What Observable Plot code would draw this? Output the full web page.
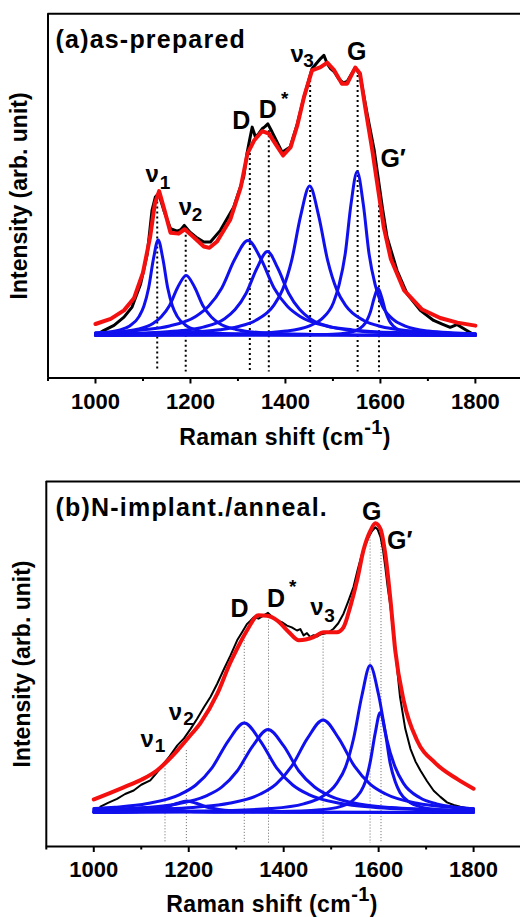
<!DOCTYPE html>
<html><head><meta charset="utf-8">
<script src="https://cdn.jsdelivr.net/npm/d3@7"></script>
<script src="https://cdn.jsdelivr.net/npm/@observablehq/plot@0.6"></script>
<style>
html,body{margin:0;padding:0;background:#fff;width:520px;overflow:hidden}
.panel{position:relative;width:520px}
svg{display:block}
</style></head><body>
<div id="pa" class="panel"></div>
<div id="pb" class="panel"></div>
<script>
// ---------- shared tick values ----------
const majorTicks = [1000, 1200, 1400, 1600, 1800];
const minorTicks = [900, 1100, 1300, 1500, 1700];

// ---------- panel (a): as-prepared ----------
const aExpX = [1000,1017,1039,1060,1077,1095,1109,1119,1126,1133,1144,1158,1172,1180,1187,1199,1212,1228,1242,1263,1291,1312,1319,1325,1330,1337,1344,1351,1357,1363,1372,1393,1410,1425,1439,1456,1466,1474,1481,1488,1495,1503,1512,1522,1530,1540,1547,1557,1572,1587,1594,1604,1614,1635,1656,1684,1712,1730,1747,1761,1782,1800];
const aExpY = [0,1.8,3.7,6.7,10.4,18.9,29.9,45.8,50.7,52,45.8,39.1,38.2,38.8,40.3,37.8,36,34.2,34.2,38.5,47,58,66.6,72,76.3,72.6,74,75.7,76.5,77.5,74.5,67.1,69,77.5,87.3,97.7,99.8,101.4,102.6,99.5,97.7,96.5,94,92.5,93,96,98,95.5,81.2,67.8,59.2,47,36,23.8,15.3,9.2,5.5,4.2,3,4,1.8,0];
const aFitX = [1000,1032,1060,1081,1100,1115,1125,1134,1147,1158,1175,1188,1207,1228,1240,1256,1284,1306,1320,1334,1351,1365,1379,1395,1411,1425,1439,1456,1474,1488,1502,1519,1530,1547,1557,1568,1583,1593,1607,1622,1650,1688,1726,1762,1800];
const aFitY = [4.2,6.1,9.2,13.6,23,36,48.2,52.9,44.8,37.6,37.3,38.9,36,32.6,32.1,34.4,42.5,54.3,66.6,71.4,74.8,73.9,70.2,65.9,69,76.9,87.3,97.1,98.3,99.9,97.3,92.2,92.2,98.1,95.9,83.6,67.8,56,39.7,28,16.5,9.5,6.4,4.7,3.6];
const aNu1X = [1000,1052,1072,1092,1102,1112,1122,1132,1142,1152,1162,1172,1192,1212,1252,1332,1500,1800];
const aNu1Y = [0.78,2.06,3.5,7,10.8,17.5,28,35,28,17.5,10.8,7,3.5,2.06,0.95,0.35,0.1,0.03];
const aNu2X = [1000,1051,1086,1121,1138,1156,1173,1191,1209,1226,1244,1261,1296,1331,1401,1541,1800];
const aNu2Y = [0.71,1.29,2.2,4.4,6.8,11,17.6,22,17.6,11,6.8,4.4,2.2,1.29,0.6,0.22,0.07];
const aDX = [1000,1101,1156,1211,1238,1266,1293,1321,1349,1376,1404,1431,1486,1541,1651,1800];
const aDY = [0.99,2.05,3.48,6.96,10.7,17.4,27.8,34.8,27.8,17.4,10.7,6.96,3.48,2.05,0.94,0.45];
const aDsX = [1000,1137,1182,1227,1272,1294,1317,1340,1362,1384,1407,1430,1452,1497,1542,1632,1800];
const aDsY = [0.47,1.18,1.81,3.08,6.16,9.48,15.4,24.6,30.8,24.6,15.4,9.48,6.16,3.08,1.81,0.83,0.32];
const aNu3X = [1000,1185,1261,1299,1337,1375,1394,1413,1432,1451,1470,1489,1508,1527,1565,1603,1641,1717,1800];
const aNu3Y = [0.38,1.09,2.1,3.22,5.47,10.9,16.8,27.4,43.8,54.7,43.8,27.4,16.8,10.9,5.47,3.22,2.1,1.09,0.64];
const aGX = [1000,1301,1401,1451,1476,1501,1513,1526,1538,1551,1564,1576,1589,1601,1626,1651,1701,1800];
const aGY = [0.12,0.59,1.62,3.53,6,12,18.5,30,48,60,48,30,18.5,12,6,3.53,1.62,0.6];
const aGpX = [1000,1400,1499,1531,1547,1563,1571,1579,1587,1595,1603,1611,1619,1627,1643,1659,1691,1800];
const aGpY = [0.01,0.11,0.47,1.02,1.73,3.46,5.32,8.65,13.8,17.3,13.8,8.65,5.32,3.46,1.73,1.02,0.47,0.1];
const aLineX = [1130,1190,1325,1365,1452,1552,1597];
const aLineTop = [50.7,38.5,66.6,75,95.2,97,53];
const aLineBottom = -13.4;
const aLabelText = ["ν","ν","D","D","ν","G","G′"];
const aLabelX = [1105.3,1175.4,1287.8,1343.8,1410.5,1529.9,1600];
const aLabelY = [56.2,44,75.7,79.7,100.1,101,61.6];
const aSubText = ["1","2","3","*"];
const aSubX = [1135.5,1202.5,1437.5,1390.5];
const aSubY = [53.5,42.1,98.3,84.5];

// ---------- panel (b): N-implant./anneal. ----------
const bExpX = [1014,1030,1049,1066,1084,1100,1119,1133,1147,1160,1176,1190,1204,1218,1232,1246,1260,1274,1288,1302,1313,1323,1330,1337,1347,1358,1367,1376,1386,1396,1407,1417,1428,1435,1442,1449,1456,1463,1470,1477,1484,1494,1505,1515,1526,1536,1547,1556,1565,1572,1579,1586,1593,1598,1604,1609,1614,1619,1625,1630,1635,1645,1656,1667,1678,1688,1702,1716,1730,1744,1758,1772,1786,1800];
const bExpY = [2.0,3.3,4.7,6.4,7.6,9.6,11.1,13.8,16.8,19.5,23.2,25.6,28.9,32.5,36.4,40.0,44.5,49.5,54.3,59.5,62.5,65.2,66.3,67.5,67.0,68.1,69.0,67.6,66.4,65.8,64.6,64.0,62.9,63.4,61.2,62.0,60.6,61.3,60.8,61.5,61.8,62.2,63.5,65.4,68.7,73.0,77.9,84.0,89.4,92.5,95.2,97.3,98.6,97.8,95.2,91.0,84.8,78.0,71.0,63.0,56.0,40.0,29.0,22.0,17.5,14.5,10.8,7.5,5.4,3.5,2.6,2.0,1.5,1.3];
const bFitX = [1000,1035,1063,1100,1133,1155,1176,1200,1225,1260,1288,1300,1323,1347,1365,1386,1410,1432,1463,1484,1512,1526,1540,1555,1568,1583,1593,1604,1614,1625,1635,1653,1681,1720,1765,1800];
const bFitY = [4.5,6.8,8.7,11.3,14.5,17.8,21.4,26,31,41,52,56,63,68.2,68,66.4,62.5,59.5,60.6,62.3,62.3,64,71,80.5,90.6,97.5,100,98,89.4,73.3,56,38.5,24.9,17,11.6,8.2];
const bNu1X = [1000,1090,1120,1150,1180,1210,1300,1800];
const bNu1Y = [0.06,0.3,0.75,1.5,0.75,0.3,0.06,0];
const bNu2X = [1000,1076,1116,1156,1176,1196,1216,1236,1276,1316,1436,1800];
const bNu2Y = [0.16,0.4,0.8,2,3.2,4,3.2,2,0.8,0.4,0.11,0.02];
const bDX = [1000,1045,1113,1181,1215,1249,1283,1317,1351,1385,1419,1453,1521,1589,1725,1800];
const bDY = [1.36,1.82,3.09,6.18,9.51,15.45,24.7,30.9,24.7,15.45,9.51,6.18,3.09,1.82,0.83,0.6];
const bDsX = [1000,1107,1172,1237,1270,1302,1335,1367,1400,1432,1465,1497,1562,1627,1757,1800];
const bDsY = [0.87,1.69,2.87,5.74,8.83,14.35,23,28.7,23,14.35,8.83,5.74,2.87,1.69,0.78,0.63];
const bNu3X = [1000,1087,1219,1285,1351,1384,1417,1450,1483,1516,1549,1582,1615,1681,1747,1800];
const bNu3Y = [0.59,0.86,1.88,3.2,6.4,9.85,16,25.6,32,25.6,16,9.85,6.4,3.2,1.88,1.33];
const bGX = [1000,1232,1372,1442,1477,1512,1530,1547,1565,1582,1600,1617,1635,1652,1687,1722,1800];
const bGY = [0.18,0.5,1.37,2.99,5.08,10.16,15.6,25.4,40.6,50.8,40.6,25.4,15.6,10.16,5.08,2.99,1.27];
const bGpX = [1000,1393,1477,1519,1540,1561,1572,1582,1593,1603,1614,1624,1635,1645,1666,1687,1729,1800];
const bGpY = [0.04,0.34,0.93,2.03,3.45,6.9,10.6,17.25,27.6,34.5,27.6,17.25,10.6,6.9,3.45,2.03,0.93,0.39];
const bLineX = [1150,1195,1317,1368,1483,1582,1605];
const bLineTop = [15.1,21.4,59.5,67.5,60.6,95.2,95];
const bLineBottom = -10.7;
const bLabelText = ["ν","ν","D","D","ν","G","G′"];
const bLabelX = [1098.3,1157.9,1287.8,1365,1456.2,1565,1617.7];
const bLabelY = [22.6,31.8,67.5,71,68.1,101,91.2];
const bSubText = ["1","2","3","*"];
const bSubX = [1128.5,1188.5,1485.5,1411];
const bSubY = [20.8,30.1,65.8,76];

const FONT = '"Liberation Sans", Arial, Helvetica, sans-serif';
const RED = "#f51010";
const BLUE = "#1010ee";

function series(xs, ys, opts) {
  return Plot.line(xs, {x: d => d, y: (d, i) => ys[i], ...opts});
}

function drawPanel(c) {
  const marks = [
    Plot.ruleX(c.lineX, {x: d => d, y1: (d, i) => c.lineTop[i], y2: c.lineBottom,
      stroke: c.dotColor, strokeWidth: c.dotWidth, strokeDasharray: c.dotDash}),
    series(c.expX, c.expY, {stroke: "#000", strokeWidth: c.expWidth}),
    ...c.comps.map(([xs, ys]) => series(xs, ys, {stroke: BLUE, strokeWidth: 3, curve: "monotone-x"})),
    series(c.fitX, c.fitY, {stroke: RED, strokeWidth: 4, curve: c.fitCurve}),
    Plot.ruleY([c.yDomain[1]], {stroke: "#000", strokeWidth: 2}),
    Plot.ruleY([c.yDomain[0]], {stroke: "#000", strokeWidth: 2}),
    Plot.ruleX([900], {stroke: "#000", strokeWidth: 2}),
    Plot.axisX({ticks: majorTicks, tickSize: 6, tickPadding: 9, tickFormat: d => String(d),
      label: null, strokeWidth: 2, fontSize: 22, fontWeight: "bold"}),
    Plot.axisX({ticks: minorTicks, tickSize: 3.5, tickFormat: () => "", label: null, strokeWidth: 2}),
    Plot.text(c.labelText, {x: (d, i) => c.labelX[i], y: (d, i) => c.labelY[i], text: d => d,
      textAnchor: "start", lineAnchor: "bottom", fontSize: d => (d === "ν" ? 24 : 25), fontWeight: "bold"}),
    Plot.text(c.subText, {x: (d, i) => c.subX[i], y: (d, i) => c.subY[i], text: d => d,
      textAnchor: "start", lineAnchor: "bottom", fontSize: 19, fontWeight: "bold"}),
    Plot.text([c.title], {text: d => d, frameAnchor: "top-left", dx: c.titleDx, dy: c.titleDy,
      textAnchor: "start", lineAnchor: "bottom", fontSize: 25, fontWeight: "bold"}),
    Plot.text(["Intensity (arb. unit)"], {text: d => d, frameAnchor: "left", dx: c.ylabDx,
      rotate: -90, textAnchor: "middle", lineAnchor: "middle", fontSize: 23, fontWeight: "bold"})
  ];
  const svg = Plot.plot({
    width: 520, height: c.height,
    marginLeft: c.marginLeft, marginRight: 0, marginTop: c.marginTop, marginBottom: c.marginBottom,
    x: {domain: c.xDomain},
    y: {domain: c.yDomain, axis: null},
    style: {fontFamily: FONT, fontSize: "22px", color: "#000", background: "#fff", overflow: "visible"},
    marks
  });
  const s = d3.select(svg);
  s.selectAll("text").filter(function() { return this.textContent === c.title; })
    .attr("letter-spacing", 1.2);
  const t = s.append("text")
    .attr("x", c.xlabX).attr("y", c.xlabY)
    .attr("text-anchor", "middle")
    .attr("font-family", FONT).attr("font-size", 23).attr("font-weight", "bold")
    .attr("letter-spacing", 0.4).attr("fill", "#000");
  t.append("tspan").text("Raman shift (cm");
  t.append("tspan").attr("dy", -11).attr("font-size", 20).text("-1");
  t.append("tspan").attr("dy", 11).attr("font-size", 23).text(")");
  return svg;
}

document.getElementById("pa").appendChild(drawPanel({
  height: 460, marginLeft: 47.5, marginTop: 13.3, marginBottom: 82.5,
  xDomain: [900, 1895], yDomain: [-15.57, 117.8],
  expX: aExpX, expY: aExpY, expWidth: 3,
  fitX: aFitX, fitY: aFitY, fitCurve: "linear",
  comps: [[aNu1X, aNu1Y], [aNu2X, aNu2Y], [aDX, aDY], [aDsX, aDsY], [aNu3X, aNu3Y], [aGX, aGY], [aGpX, aGpY]],
  lineX: aLineX, lineTop: aLineTop, lineBottom: aLineBottom,
  dotColor: "#000", dotWidth: 2, dotDash: "2,3",
  labelText: aLabelText, labelX: aLabelX, labelY: aLabelY,
  subText: aSubText, subX: aSubX, subY: aSubY,
  title: "(a)as-prepared", titleDx: 7.5, titleDy: 33.7,
  ylabDx: -28.2, xlabX: 285, xlabY: 444.5
}));

document.getElementById("pb").appendChild(drawPanel({
  height: 457, marginLeft: 45.8, marginTop: 21, marginBottom: 71,
  xDomain: [900, 1898.8], yDomain: [-11.75, 114.4],
  expX: bExpX, expY: bExpY, expWidth: 2,
  fitX: bFitX, fitY: bFitY, fitCurve: "monotone-x",
  comps: [[bNu1X, bNu1Y], [bNu2X, bNu2Y], [bDX, bDY], [bDsX, bDsY], [bNu3X, bNu3Y], [bGX, bGY], [bGpX, bGpY]],
  lineX: bLineX, lineTop: bLineTop, lineBottom: bLineBottom,
  dotColor: "#666", dotWidth: 1, dotDash: "1,2",
  labelText: bLabelText, labelX: bLabelX, labelY: bLabelY,
  subText: bSubText, subX: bSubX, subY: bSubY,
  title: "(b)N-implant./anneal.", titleDx: 9.2, titleDy: 34,
  ylabDx: -23.8, xlabX: 272, xlabY: 451.7
}));
</script>
</body></html>
